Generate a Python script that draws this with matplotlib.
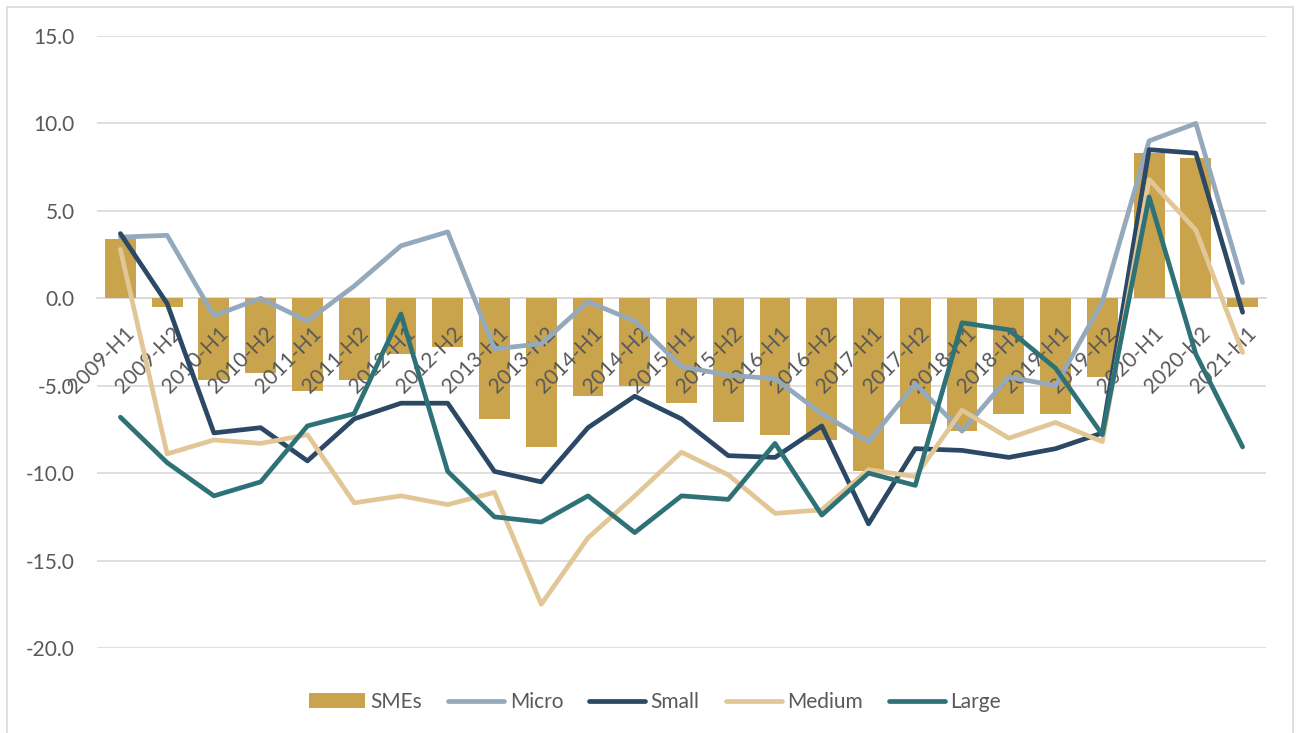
import matplotlib
matplotlib.use("Agg")
import matplotlib.pyplot as plt
import matplotlib.transforms as mtransforms
from matplotlib.patches import Rectangle
import numpy as np

plt.rcParams['font.family'] = ['Lato', 'DejaVu Sans']
plt.rcParams['axes.unicode_minus'] = False

# half-year periods
periods = ['2009-H1', '2009-H2', '2010-H1', '2010-H2', '2011-H1', '2011-H2',
           '2012-H1', '2012-H2', '2013-H1', '2013-H2', '2014-H1', '2014-H2',
           '2015-H1', '2015-H2', '2016-H1', '2016-H2', '2017-H1', '2017-H2',
           '2018-H1', '2018-H2', '2019-H1', '2019-H2', '2020-H1', '2020-H2',
           '2021-H1']

smes = [3.4, -0.5, -4.7, -4.3, -5.3, -4.7, -3.2, -2.8, -6.9, -8.5, -5.6, -5.0,
        -6.0, -7.1, -7.8, -8.1, -9.9, -7.2, -7.6, -6.6, -6.6, -4.5, 8.3, 8.0, -0.5]
micro = [3.5, 3.6, -1.0, 0.0, -1.3, 0.7, 3.0, 3.8, -2.9, -2.6, -0.2, -1.3,
         -3.9, -4.4, -4.6, -6.6, -8.2, -4.9, -7.6, -4.5, -5.0, -0.2, 9.0, 10.0, 0.9]
small = [3.7, -0.3, -7.7, -7.4, -9.3, -6.9, -6.0, -6.0, -9.9, -10.5, -7.4, -5.6,
         -6.9, -9.0, -9.1, -7.3, -12.9, -8.6, -8.7, -9.1, -8.6, -7.7, 8.5, 8.3, -0.8]
medium = [2.8, -8.9, -8.1, -8.3, -7.8, -11.7, -11.3, -11.8, -11.1, -17.5, -13.7, -11.3,
          -8.8, -10.1, -12.3, -12.1, -9.8, -10.2, -6.4, -8.0, -7.1, -8.2, 6.8, 3.9, -3.1]
large = [-6.8, -9.4, -11.3, -10.5, -7.3, -6.6, -0.9, -9.9, -12.5, -12.8, -11.3, -13.4,
         -11.3, -11.5, -8.3, -12.4, -10.0, -10.7, -1.4, -1.8, -4.0, -7.8, 5.8, -3.2, -8.5]

yticks = [-20, -15, -10, -5, 0, 5, 10, 15]

grey_txt = '#595959'
grid_col = '#D9D9D9'

fig = plt.figure(figsize=(12.96, 7.33), dpi=100)
ax = fig.add_axes([97/1296, 1 - 648/733, (1266 - 97)/1296, (648 - 36)/733])

x = np.arange(len(periods))
bars = ax.bar(x, smes, width=0.66, color='#C9A44C', label='SMEs', zorder=2)

line_kw = dict(lw=3.4, solid_capstyle='round', solid_joinstyle='round', zorder=3)
l1, = ax.plot(x, micro, color='#94A9BC', label='Micro', **line_kw)
l2, = ax.plot(x, small, color='#2B4865', label='Small', **line_kw)
l3, = ax.plot(x, medium, color='#E2C696', label='Medium', **line_kw)
l4, = ax.plot(x, large, color='#2E7277', label='Large', **line_kw)

ax.set_xlim(-0.5, len(periods) - 0.5)
ax.set_ylim(-20, 15)
ax.set_yticks(yticks)
ax.set_yticklabels(['%.1f' % v for v in yticks])
ax.yaxis.grid(True, color=grid_col, lw=1.2)
ax.yaxis.set_zorder(0.5)
ax.xaxis.set_zorder(2.5)  # category labels over the bars

for s in ['top', 'right', 'left']:
    ax.spines[s].set_visible(False)
ax.spines['bottom'].set_position(('data', 0))
ax.spines['bottom'].set_color(grid_col)
ax.spines['bottom'].set_linewidth(1.2)
ax.spines['bottom'].set_zorder(1)

ax.set_xticks(x)
ax.set_xticklabels(periods, rotation=45, ha='right', va='top', rotation_mode='anchor')
ax.tick_params(axis='x', length=0, pad=18, labelsize=15, labelcolor=grey_txt)
ax.tick_params(axis='y', length=0, pad=16, labelsize=15, labelcolor=grey_txt)
shift = mtransforms.ScaledTranslation(4/100, 0, fig.dpi_scale_trans)
for lbl in ax.get_xticklabels():
    lbl.set_transform(lbl.get_transform() + shift)

leg = fig.legend([bars, l1, l2, l3, l4], ['SMEs', 'Micro', 'Small', 'Medium', 'Large'],
                 loc='center', bbox_to_anchor=(655/1296, 1 - 702/733), ncol=5,
                 frameon=False, fontsize=15, handlelength=2.7, handletextpad=0.25,
                 columnspacing=1.25, handleheight=0.7)
for t in leg.get_texts():
    t.set_color(grey_txt)

# outer chart border
fig.add_artist(Rectangle((7/1296, -0.05), 1286/1296, 1 - 7/733 + 0.05,
                         transform=fig.transFigure, fill=False,
                         edgecolor=grid_col, lw=1.2))

fig.savefig('out.png', dpi=100, facecolor='white')
